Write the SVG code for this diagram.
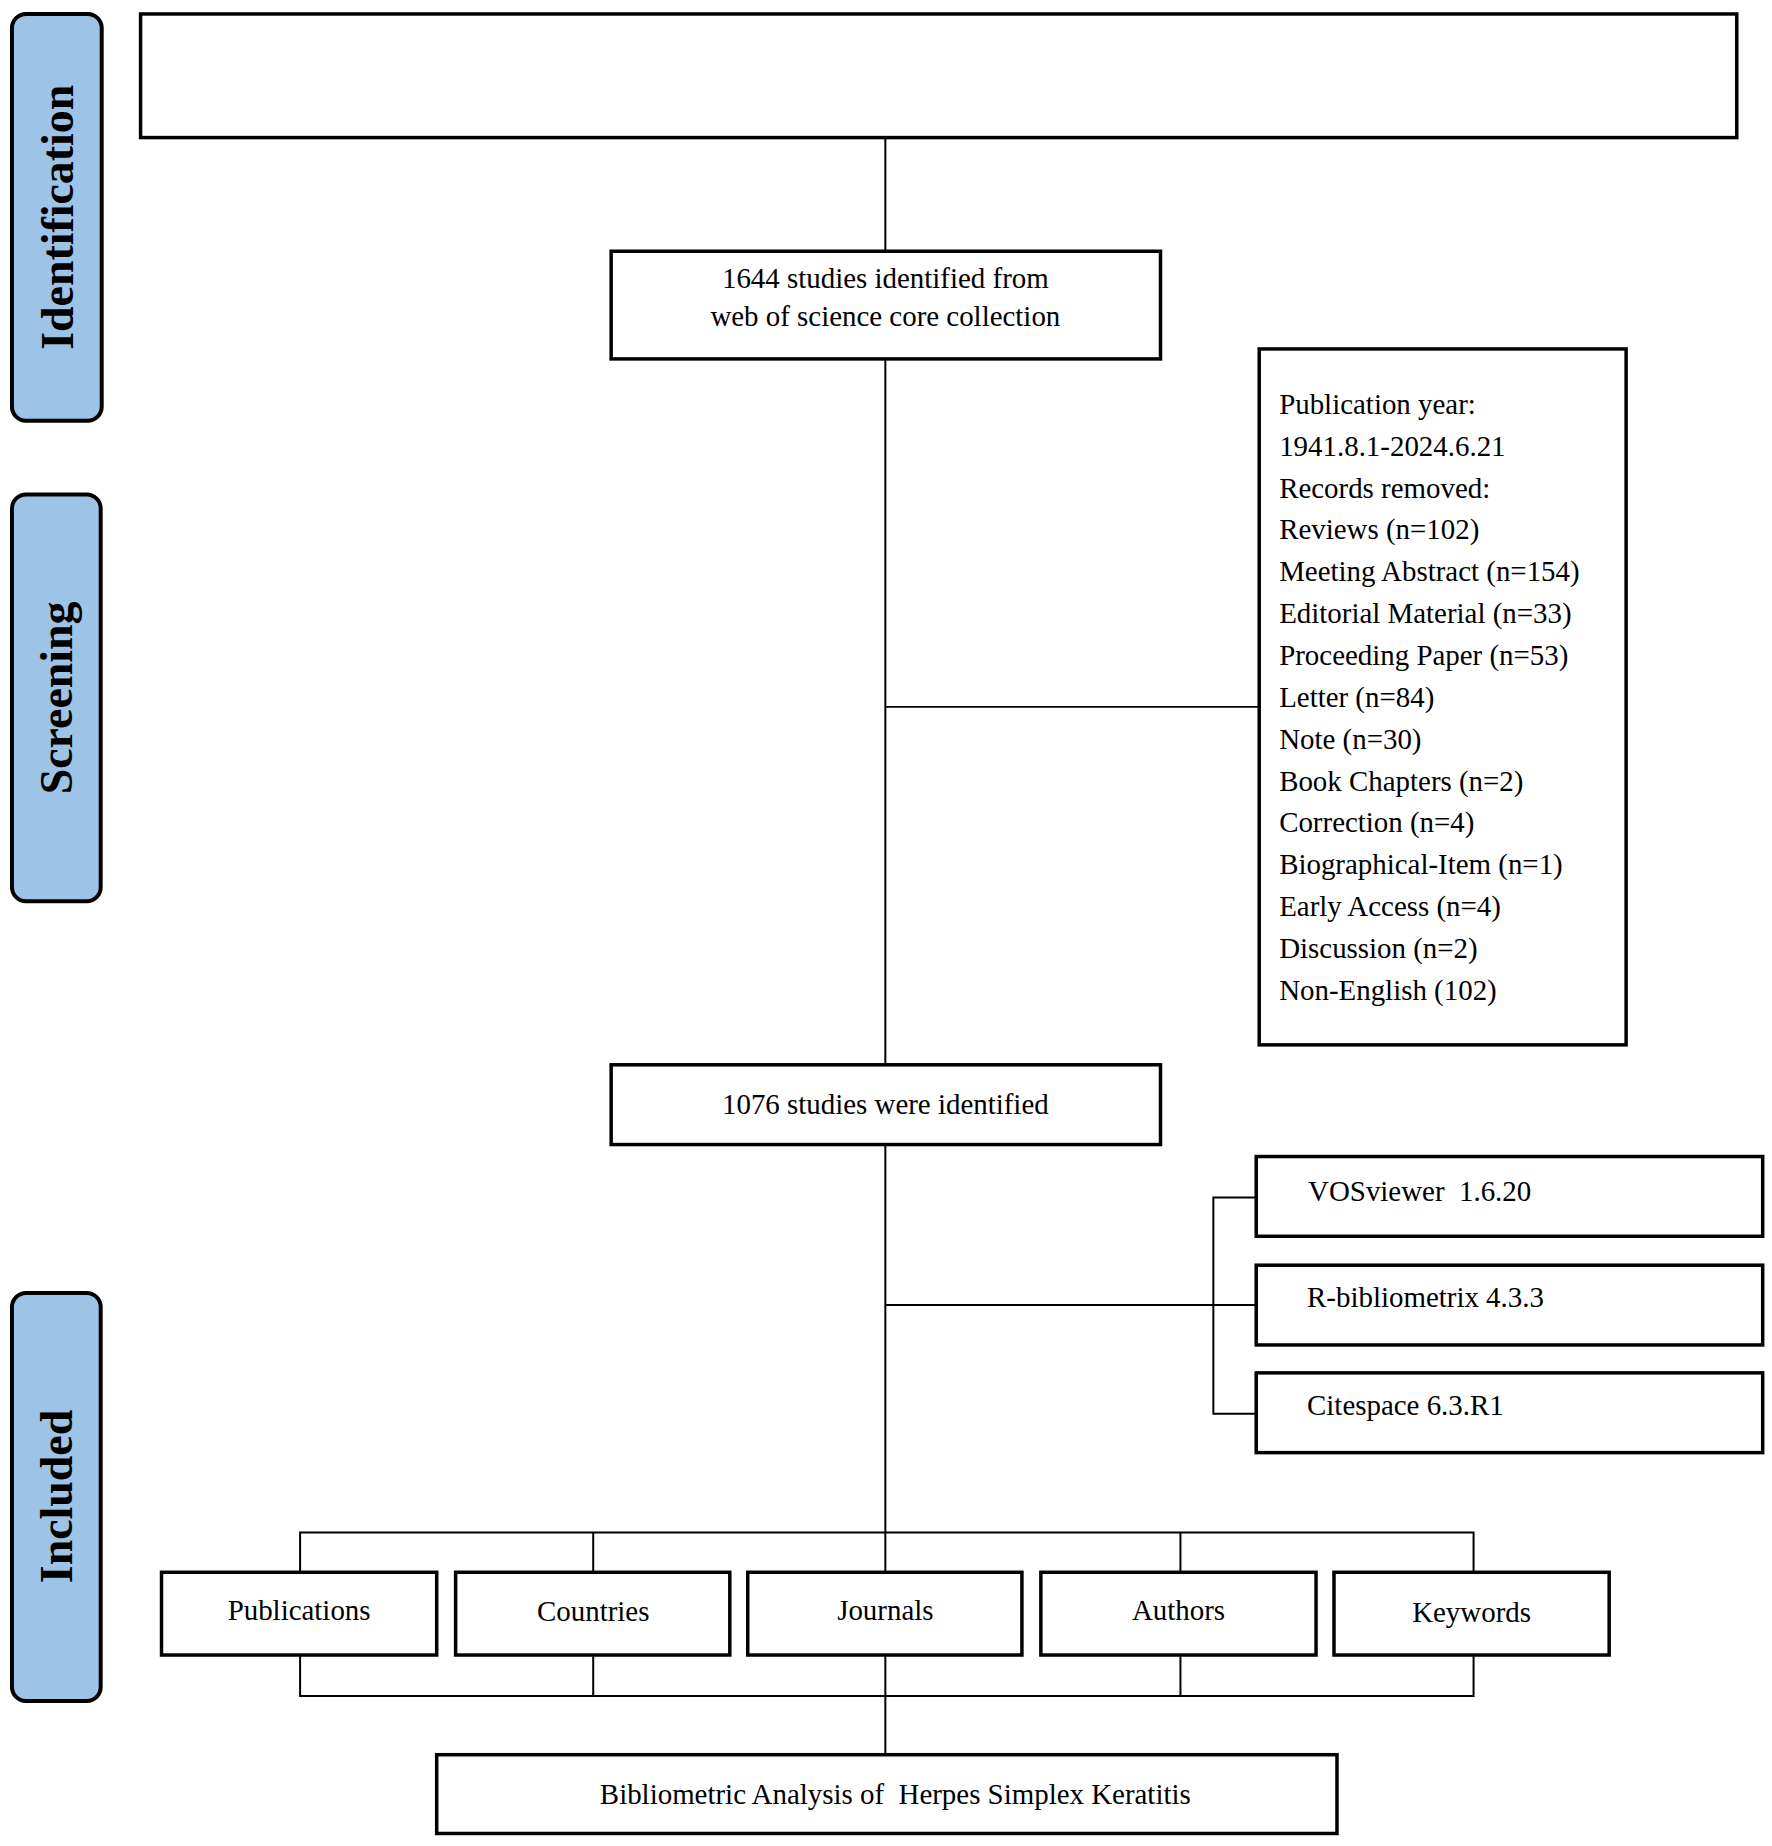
<svg xmlns="http://www.w3.org/2000/svg" width="1772" height="1846" viewBox="0 0 1772 1846">
<style>
.pill{fill:#9DC3E6;stroke:#000;stroke-width:4}
.box{fill:#fff;stroke:#000;stroke-width:3.5}
.ln{fill:none;stroke:#000;stroke-width:2}
.stage{font-family:"Liberation Serif","Times New Roman",serif;font-weight:bold;font-size:46px;fill:#000}
.t{font-family:"Liberation Serif","Times New Roman",serif;font-size:29px;fill:#000}
</style>
<rect width="1772" height="1846" fill="#fff"/>
<g transform="scale(0.997)">
<g id="connectors">
<path class="ln" d="M888 138V1577"/>
<path class="ln" d="M888 709H1263"/>
<path class="ln" d="M888 1309H1260"/>
<path class="ln" d="M1260 1201H1217V1418H1260"/>
<path class="ln" d="M301 1577V1537H1478V1577M595 1537V1577M1184 1537V1577"/>
<path class="ln" d="M301 1660V1701H1478V1660M595 1660V1701M888 1660V1760M1184 1660V1701"/>
</g>
<g id="stage-identification"><rect class="pill" x="12" y="14" width="90" height="408" rx="14"/><text class="stage" transform="translate(73 218) rotate(-90)" text-anchor="middle">Identification</text></g>
<g id="stage-screening"><rect class="pill" x="12" y="496" width="89" height="408" rx="14"/><text class="stage" transform="translate(72 700) rotate(-90)" text-anchor="middle">Screening</text></g>
<g id="stage-included"><rect class="pill" x="12" y="1297" width="89" height="409" rx="14"/><text class="stage" transform="translate(72 1501) rotate(-90)" text-anchor="middle">Included</text></g>
<g id="top-box"><rect class="box" x="141" y="14" width="1601" height="124"/></g>
<g id="identified"><rect class="box" x="613" y="252" width="551" height="108"/><text class="t" x="888" y="289" text-anchor="middle">1644 studies identified from</text><text class="t" x="888" y="327" text-anchor="middle">web of science core collection</text></g>
<g id="removed"><rect class="box" x="1263" y="350" width="368" height="698"/>
<text class="t" x="1283">
<tspan x="1283" y="415">Publication year:</tspan>
<tspan x="1283" y="457">1941.8.1-2024.6.21</tspan>
<tspan x="1283" y="499">Records removed:</tspan>
<tspan x="1283" y="541">Reviews (n=102)</tspan>
<tspan x="1283" y="583">Meeting Abstract (n=154)</tspan>
<tspan x="1283" y="625">Editorial Material (n=33)</tspan>
<tspan x="1283" y="667">Proceeding Paper (n=53)</tspan>
<tspan x="1283" y="709">Letter (n=84)</tspan>
<tspan x="1283" y="751">Note (n=30)</tspan>
<tspan x="1283" y="793">Book Chapters (n=2)</tspan>
<tspan x="1283" y="835">Correction (n=4)</tspan>
<tspan x="1283" y="877">Biographical-Item (n=1)</tspan>
<tspan x="1283" y="919">Early Access (n=4)</tspan>
<tspan x="1283" y="961">Discussion (n=2)</tspan>
<tspan x="1283" y="1003">Non-English (102)</tspan>
</text></g>
<g id="included-studies"><rect class="box" x="613" y="1068" width="551" height="80"/><text class="t" x="888" y="1117" text-anchor="middle">1076 studies were identified</text></g>
<g id="vosviewer"><rect class="box" x="1260" y="1160" width="508" height="80"/><text class="t" x="1312" y="1205" xml:space="preserve">VOSviewer  1.6.20</text></g>
<g id="bibliometrix"><rect class="box" x="1260" y="1269" width="508" height="80"/><text class="t" x="1311" y="1311">R-bibliometrix 4.3.3</text></g>
<g id="citespace"><rect class="box" x="1260" y="1377" width="508" height="80"/><text class="t" x="1311" y="1419">Citespace 6.3.R1</text></g>
<g id="publications"><rect class="box" x="162" y="1577" width="276" height="83"/><text class="t" x="300" y="1625" text-anchor="middle">Publications</text></g>
<g id="countries"><rect class="box" x="457" y="1577" width="275" height="83"/><text class="t" x="595" y="1626" text-anchor="middle">Countries</text></g>
<g id="journals"><rect class="box" x="750" y="1577" width="275" height="83"/><text class="t" x="888" y="1625" text-anchor="middle">Journals</text></g>
<g id="authors"><rect class="box" x="1044" y="1577" width="276" height="83"/><text class="t" x="1182" y="1625" text-anchor="middle">Authors</text></g>
<g id="keywords"><rect class="box" x="1338" y="1577" width="276" height="83"/><text class="t" x="1476" y="1627" text-anchor="middle">Keywords</text></g>
<g id="result"><rect class="box" x="438" y="1760" width="903" height="79"/><text class="t" x="898" y="1809" text-anchor="middle" xml:space="preserve">Bibliometric Analysis of  Herpes Simplex Keratitis</text></g>
</g>
</svg>
